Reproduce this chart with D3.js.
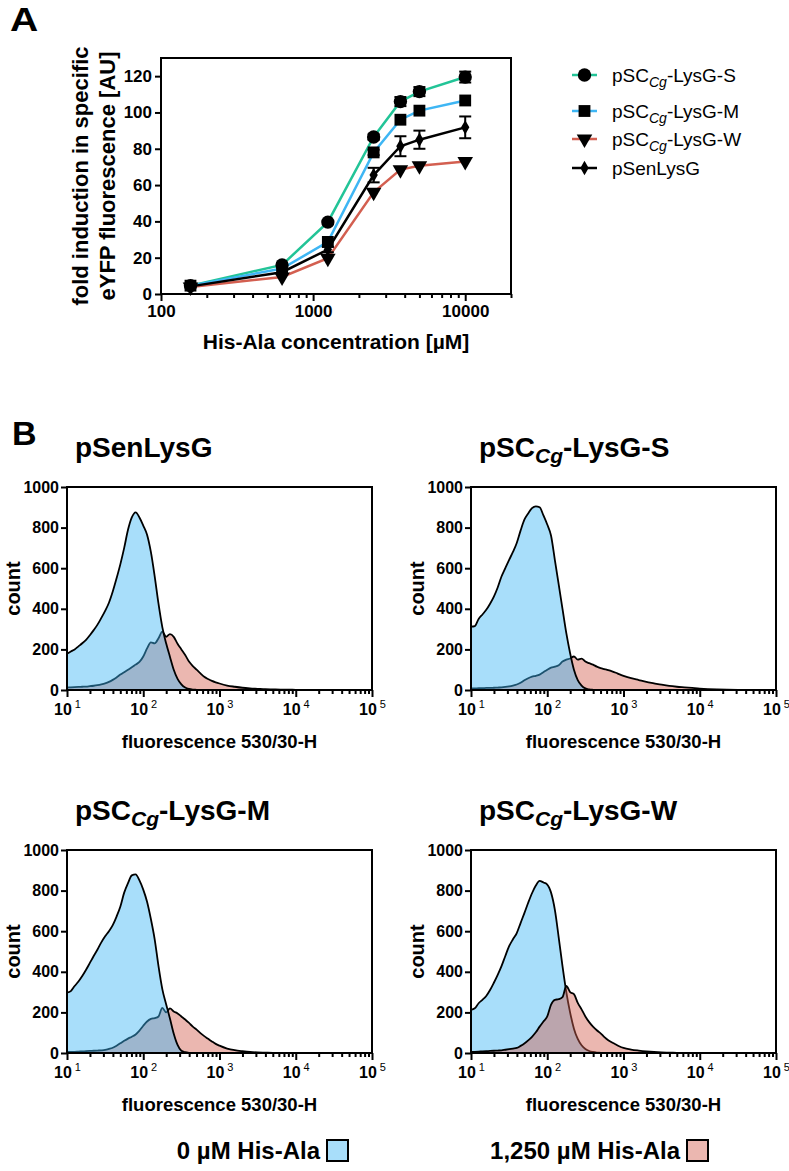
<!DOCTYPE html>
<html><head><meta charset="utf-8">
<script src="https://cdn.jsdelivr.net/npm/d3@7"></script>
<style>body{margin:0;background:#fff;} svg text{font-family:"Liberation Sans",Arial,sans-serif;}</style>
</head><body>
<svg id="c" width="789" height="1171"></svg>
<script>
// ================= DATA =================
// Panel A: concentrations (µM) and fold induction values
const concentrations = [156.25, 625, 1250, 2500, 3750, 5000, 10000];
const valuesS   = [4.6, 16.0, 39.6, 86.5, 106.0, 111.5, 119.5];
const errorsS   = [0.5, 1.0, 1.0, 1.5, 2.5, 2.5, 3.0];
const valuesM   = [4.6, 14.0, 28.7, 78.0, 96.0, 101.0, 106.6];
const errorsM   = [0.5, 0.8, 1.0, 1.5, 1.2, 1.2, 1.2];
const valuesW   = [3.9, 9.4, 19.7, 56.0, 68.5, 70.7, 73.0];
const errorsW   = [0.3, 0.5, 0.8, 1.0, 1.0, 1.0, 1.0];
const valuesSen = [4.2, 12.0, 24.5, 65.5, 81.4, 85.0, 91.8];
const errorsSen = [0.5, 1.0, 1.5, 4.0, 5.5, 5.0, 6.0];
const yTicksA = [0, 20, 40, 60, 80, 100, 120];
const xMajorTicksA = [100, 1000, 10000];
const xMinorTicksA = [200,300,400,500,600,700,800,900,2000,3000,4000,5000,6000,7000,8000,9000,20000];

// Panel B: histogram grid (log10 fluorescence) and counts
const histLogX = [1.00,1.05,1.10,1.15,1.20,1.25,1.30,1.35,1.40,1.45,
                  1.50,1.55,1.60,1.65,1.70,1.75,1.80,1.85,1.90,1.95,
                  2.00,2.05,2.10,2.15,2.20,2.25,2.30,2.35,2.40,2.45,
                  2.50,2.55,2.60,2.65,2.70,2.75,2.80,2.85,2.90,2.95,
                  3.00,3.1,3.2,3.3,3.4,3.5,3.6,3.7,3.8,3.9,4.0,4.5,5.0];
const senLysG_0 = [178,190,200,215,230,247,270,295,322,355, 390,430,485,550,620,700,789,850,875,850, 810,765,680,560,425,310,230,164,100,55, 28,12,5,2,1,0,0,0,0,0, 0,0,0,0,0,0,0,0,0,0, 0,0,0];
const senLysG_1250 = [12,13,14,15,16,17,19,21,24,28, 33,40,50,62,76,88,100,112,125,138, 165,205,235,230,255,288,262,275,262,228, 200,172,140,118,100,82,65,54,45,38, 32,22,16,11,8,6,4,3,2,2, 1,0,0];
const lysGS_0 = [312,315,350,372,395,425,460,505,559,600, 641,680,724,785,839,870,896,905,900,860, 815,760,640,520,400,280,181,100,49,22, 8,3,1,0,0,0,0,0,0,0, 0,0,0,0,0,0,0,0,0,0, 0,0,0];
const lysGS_1250 = [8,8,9,9,10,10,11,12,13,15, 18,22,27,36,48,58,66,70,76,88, 100,110,115,122,140,150,155,165,150,155, 140,132,125,115,108,103,98,92,85,77, 70,58,49,40,33,26,20,16,13,10, 7,1,0];
const lysGM_0 = [297,305,330,352,379,410,444,478,510,545, 575,600,630,672,722,790,837,875,880,850, 805,745,660,560,428,315,240,170,95,40, 11,4,1,0,0,0,0,0,0,0, 0,0,0,0,0,0,0,0,0,0, 0,0,0];
const lysGM_1250 = [5,6,6,7,8,9,10,11,12,13, 15,20,26,36,48,60,71,80,91,110, 134,155,168,172,180,222,200,220,205,195, 180,165,148,130,115,98,83,70,57,45, 36,22,14,9,5,3,2,1,1,0, 0,0,0];
const lysGW_0 = [213,220,245,262,281,310,346,385,428,478, 526,560,591,640,689,740,787,825,848,840, 830,790,705,570,428,300,199,120,69,38, 20,10,5,2,1,0,0,0,0,0, 0,0,0,0,0,0,0,0,0,0, 0,0,0];
const lysGW_1250 = [5,6,7,8,9,10,11,12,13,16, 19,22,25,35,47,62,80,102,130,155, 180,238,262,265,275,330,300,290,247,215, 180,152,130,112,97,78,63,52,42,32, 25,17,12,8,5,3,2,1,0,0, 0,0,0];
const yTicksB = [0, 200, 400, 600, 800, 1000];
const xExponentsB = [1, 2, 3, 4, 5];

// ================= STYLE =================
const colS = "#22c497", colM = "#3eb6f4", colW = "#d35f50", colSen = "#000000";
const fillBlue = "rgba(62,182,244,0.45)", fillRed = "rgba(211,96,80,0.45)";

const svg = d3.select("#c");

// ================= PANEL A =================
const A = {left:161, right:511, top:58, bottom:294};
const xA = d3.scaleLog().domain([100, 20000]).range([A.left, A.right]);
const yA = d3.scaleLinear().domain([0, 130]).range([A.bottom, A.top]);

svg.append("text").attr("transform", "translate(10,31) scale(1.15,1)").attr("font-size", 34).attr("font-weight", "bold").text("A");

const gyA = svg.append("g").attr("transform", `translate(${A.left},0)`)
  .call(d3.axisLeft(yA).tickValues(yTicksA).tickSize(6).tickPadding(3));
const gxA = svg.append("g").attr("transform", `translate(0,${A.bottom})`)
  .call(d3.axisBottom(xA).tickValues(xMajorTicksA).tickFormat(d3.format("d")).tickSize(7).tickPadding(4));
const gxAm = svg.append("g").attr("transform", `translate(0,${A.bottom})`)
  .call(d3.axisBottom(xA).tickValues(xMinorTicksA).tickFormat("").tickSize(4));
[gyA, gxA, gxAm].forEach(g => {
  g.select(".domain").remove();
  g.selectAll("line").attr("stroke", "#000").attr("stroke-width", 2);
  g.selectAll("text").attr("font-size", 17).attr("font-weight", "bold").attr("fill", "#000")
   .attr("font-family", "'Liberation Sans', Arial, sans-serif");
});
svg.append("rect").attr("x", A.left).attr("y", A.top).attr("width", A.right - A.left).attr("height", A.bottom - A.top)
  .attr("fill", "none").attr("stroke", "#000").attr("stroke-width", 2);

// axis titles
svg.append("text").attr("transform", `translate(88,${(A.top + A.bottom) / 2}) rotate(-90)`)
  .attr("text-anchor", "middle").attr("font-size", 22).attr("font-weight", "bold").text("fold induction in specific");
svg.append("text").attr("transform", `translate(115,${(A.top + A.bottom) / 2}) rotate(-90)`)
  .attr("text-anchor", "middle").attr("font-size", 22).attr("font-weight", "bold").text("eYFP fluorescence [AU]");
svg.append("text").attr("x", (A.left + A.right) / 2).attr("y", 349).attr("text-anchor", "middle")
  .attr("font-size", 21).attr("font-weight", "bold").text("His-Ala concentration [µM]");

const seriesA = [
  {label:["pSC","Cg","-LysG-S"], vals:valuesS, errs:errorsS, color:colS, sym:d3.symbolCircle, size:140, rot:0},
  {label:["pSC","Cg","-LysG-M"], vals:valuesM, errs:errorsM, color:colM, sym:d3.symbolSquare, size:140, rot:0},
  {label:["pSC","Cg","-LysG-W"], vals:valuesW, errs:errorsW, color:colW, sym:d3.symbolTriangle, size:105, rot:180},
  {label:["pSenLysG"], vals:valuesSen, errs:errorsSen, color:colSen, sym:d3.symbolDiamond, size:60, rot:0}
];
const lineA = d3.line().x(d => xA(d[0])).y(d => yA(d[1]));
seriesA.forEach(s => {
  const pts = concentrations.map((c, i) => [c, s.vals[i], s.errs[i]]);
  svg.append("path").datum(pts).attr("d", lineA).attr("fill", "none").attr("stroke", s.color).attr("stroke-width", 2.5);
});
seriesA.forEach(s => {
  const pts = concentrations.map((c, i) => [c, s.vals[i], s.errs[i]]);
  const g = svg.append("g");
  pts.forEach(p => {
    if (p[2] > 1.2) {
      const x = xA(p[0]), y1 = yA(p[1] - p[2]), y2 = yA(p[1] + p[2]);
      g.append("line").attr("x1", x).attr("x2", x).attr("y1", y1).attr("y2", y2).attr("stroke", "#000").attr("stroke-width", 2);
      g.append("line").attr("x1", x - 6).attr("x2", x + 6).attr("y1", y1).attr("y2", y1).attr("stroke", "#000").attr("stroke-width", 2);
      g.append("line").attr("x1", x - 6).attr("x2", x + 6).attr("y1", y2).attr("y2", y2).attr("stroke", "#000").attr("stroke-width", 2);
    }
    g.append("path").attr("d", d3.symbol().type(s.sym).size(s.size)())
      .attr("transform", `translate(${xA(p[0])},${yA(p[1])}) rotate(${s.rot})`).attr("fill", "#000");
  });
});

// legend A
const legRows = [75, 111, 139, 168];
seriesA.forEach((s, i) => {
  const y = legRows[i];
  svg.append("line").attr("x1", 572).attr("x2", 597).attr("y1", y).attr("y2", y).attr("stroke", s.color).attr("stroke-width", 2.5);
  svg.append("path").attr("d", d3.symbol().type(s.sym).size(s.size)())
    .attr("transform", `translate(584.5,${y}) rotate(${s.rot})`).attr("fill", "#000");
  const t = svg.append("text").attr("x", 612).attr("y", y + 7).attr("font-size", 19);
  if (s.label.length === 3) {
    t.append("tspan").text(s.label[0]);
    t.append("tspan").attr("font-style", "italic").attr("font-size", 14).attr("dy", 5).text(s.label[1]);
    t.append("tspan").attr("dy", -5).text(s.label[2]);
  } else t.text(s.label[0]);
});

// ================= PANEL B =================
svg.append("text").attr("x", 12).attr("y", 445).attr("font-size", 34).attr("font-weight", "bold").text("B");

const panelsB = [
  {title:["pSenLysG"], left:67, top:487, data0:senLysG_0, data1:senLysG_1250, redOnTop:false},
  {title:["pSC","Cg","-LysG-S"], left:471, top:487, data0:lysGS_0, data1:lysGS_1250, redOnTop:false},
  {title:["pSC","Cg","-LysG-M"], left:67, top:850, data0:lysGM_0, data1:lysGM_1250, redOnTop:false},
  {title:["pSC","Cg","-LysG-W"], left:471, top:850, data0:lysGW_0, data1:lysGW_1250, redOnTop:true}
];
const wB = 305, hB = 203;

panelsB.forEach(p => {
  const x = d3.scaleLog().domain([10, 100000]).range([p.left, p.left + wB]);
  const y = d3.scaleLinear().domain([0, 1000]).range([p.top + hB, p.top]);
  const area = d3.area().x((d, i) => x(Math.pow(10, histLogX[i]))).y0(y(0)).y1(d => y(d)).curve(d3.curveMonotoneX);
  const line = d3.line().x((d, i) => x(Math.pow(10, histLogX[i]))).y(d => y(d)).curve(d3.curveMonotoneX);
  const order = p.redOnTop ? [[p.data0, fillBlue], [p.data1, fillRed]] : [[p.data1, fillRed], [p.data0, fillBlue]];
  order.forEach(([d, f]) => {
    svg.append("path").datum(d).attr("d", area).attr("fill", f);
    svg.append("path").datum(d).attr("d", line).attr("fill", "none").attr("stroke", "#000").attr("stroke-width", 1.8);
  });

  // title
  const t = svg.append("text").attr("x", p.left + 8).attr("y", p.top - 30).attr("font-size", 28).attr("font-weight", "bold");
  if (p.title.length === 3) {
    t.append("tspan").text(p.title[0]);
    t.append("tspan").attr("font-style", "italic").attr("font-size", 21).attr("dy", 6).text(p.title[1]);
    t.append("tspan").attr("dy", -6).text(p.title[2]);
  } else t.text(p.title[0]);

  // axes
  const gy = svg.append("g").attr("transform", `translate(${p.left},0)`)
    .call(d3.axisLeft(y).tickValues(yTicksB).tickFormat(d3.format("d")).tickSize(6).tickPadding(2));
  const majors = xExponentsB.map(e => Math.pow(10, e));
  const minors = [];
  for (let e = 1; e < 5; e++) for (let m = 2; m <= 9; m++) minors.push(m * Math.pow(10, e));
  const gx = svg.append("g").attr("transform", `translate(0,${p.top + hB})`)
    .call(d3.axisBottom(x).tickValues(majors).tickFormat("").tickSize(7));
  const gxm = svg.append("g").attr("transform", `translate(0,${p.top + hB})`)
    .call(d3.axisBottom(x).tickValues(minors).tickFormat("").tickSize(4));
  [gy, gx, gxm].forEach(g => {
    g.select(".domain").remove();
    g.selectAll("line").attr("stroke", "#000").attr("stroke-width", 2);
    g.selectAll("text").attr("font-size", 16).attr("font-weight", "bold").attr("fill", "#000")
      .attr("font-family", "'Liberation Sans', Arial, sans-serif");
  });
  gx.selectAll(".tick").each(function(d, i) {
    const tx = d3.select(this).append("text").attr("y", 25).attr("text-anchor", "middle")
      .attr("font-size", 16).attr("font-weight", "bold").attr("fill", "#000");
    tx.append("tspan").text("10");
    tx.append("tspan").attr("dy", -7).attr("font-size", 11).attr("font-weight", "normal").text(" " + xExponentsB[i]);
  });
  svg.append("rect").attr("x", p.left).attr("y", p.top).attr("width", wB).attr("height", hB)
    .attr("fill", "none").attr("stroke", "#000").attr("stroke-width", 2);

  svg.append("text").attr("transform", `translate(${p.left - 47},${p.top + hB / 2}) rotate(-90)`)
    .attr("text-anchor", "middle").attr("font-size", 20).attr("font-weight", "bold").text("count");
  svg.append("text").attr("x", p.left + wB / 2).attr("y", p.top + hB + 58).attr("text-anchor", "middle")
    .attr("font-size", 18.5).attr("font-weight", "bold").text("fluorescence 530/30-H");
});

// bottom legend
const legB = [
  {label:"0 µM His-Ala", fill:fillBlue, right:320},
  {label:"1,250 µM His-Ala", fill:fillRed, right:680}
];
legB.forEach(l => {
  svg.append("text").attr("x", l.right).attr("y", 1159).attr("text-anchor", "end")
    .attr("font-size", 24).attr("font-weight", "bold").text(l.label);
  svg.append("rect").attr("x", l.right + 7).attr("y", 1140).attr("width", 21).attr("height", 21)
    .attr("fill", l.fill).attr("stroke", "#000").attr("stroke-width", 2);
});
</script>
</body></html>
